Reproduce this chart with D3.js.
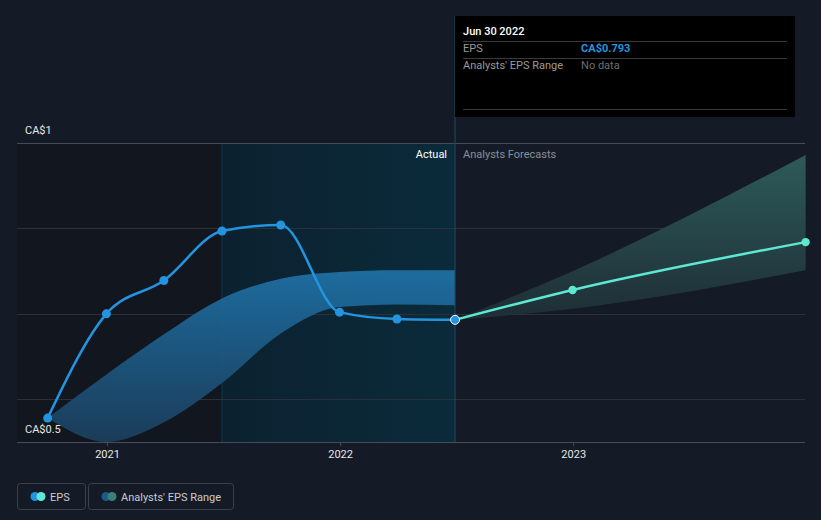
<!DOCTYPE html>
<html><head><meta charset="utf-8">
<script src="https://cdn.jsdelivr.net/npm/d3@7"></script>
<style>
html,body{margin:0;padding:0;background:#151b26;}
svg{display:block;font-family:Roboto, "Noto Sans", sans-serif;}
</style></head>
<body>
<svg id="c" width="821" height="520"></svg>
<script>
// ---------- data ----------
const epsDates   = ["2020-09-30","2020-12-31","2021-03-31","2021-06-30","2021-09-30","2021-12-31","2022-03-31","2022-06-30"];
const epsValues  = [0.678, 0.800, 0.839, 0.897, 0.904, 0.802, 0.794, 0.793];
const rangeLow   = [0.678, 0.650, 0.673, 0.719, 0.777, 0.808, 0.811, 0.810];
const rangeHigh  = [0.678, 0.729, 0.776, 0.818, 0.841, 0.849, 0.851, 0.851];
const fcDates    = ["2022-06-30","2022-12-31","2023-12-31"];
const fcValues   = [0.793, 0.828, 0.884];
const fcLow      = [0.793, 0.806, 0.851];
const fcHigh     = [0.793, 0.850, 0.986];
const gridValues = [0.7, 0.8, 0.9, 1.0];
const yLabels    = [{v:1.0, t:"CA$1"}, {v:0.65, t:"CA$0.5"}];
const xTicks     = ["2021-01-01","2022-01-01","2023-01-01"];
const xTickLabels= ["2021","2022","2023"];
const highlightStart = "2021-06-30";
const todayDate  = "2022-06-30";
const tooltip = {title:"Jun 30 2022", rows:[["EPS","CA$0.793"],["Analysts' EPS Range","No data"]]};
const legendItems = ["EPS","Analysts' EPS Range"];

// ---------- setup ----------
const P = d3.timeParse("%Y-%m-%d");
const svg = d3.select("#c");
const L = 17, R = 805, T = 143, B = 442;
const x = d3.scaleTime().domain([P("2020-08-13"), P("2023-12-30")]).range([L, R]);
const y = d3.scaleLinear().domain([0.65, 1.0]).range([B, T]);

const defs = svg.append("defs");
const g1 = defs.append("linearGradient").attr("id","hl").attr("x1",0).attr("x2",1).attr("y1",0).attr("y2",0);
g1.append("stop").attr("offset","0%").attr("stop-color","#0c2130");
g1.append("stop").attr("offset","100%").attr("stop-color","#0a2b3a");
const g2 = defs.append("linearGradient").attr("id","band").attr("x1",0).attr("x2",0).attr("y1",0).attr("y2",1);
g2.append("stop").attr("offset","0%").attr("stop-color","#1e6fa3");
g2.append("stop").attr("offset","100%").attr("stop-color","#1b3e5c");
const g3 = defs.append("linearGradient").attr("id","fband").attr("gradientUnits","userSpaceOnUse")
  .attr("x1",0).attr("x2",0).attr("y1",150).attr("y2",320);
g3.append("stop").attr("offset","0%").attr("stop-color","#2f5f5c");
g3.append("stop").attr("offset","100%").attr("stop-color","#1e2f36");

const hx = x(P(highlightStart)), tx = x(P(todayDate));
svg.append("rect").attr("x",L).attr("y",T).attr("width",hx-L).attr("height",B-T).attr("fill","#11161f");
svg.append("rect").attr("x",hx).attr("y",T).attr("width",tx-hx).attr("height",B-T).attr("fill","url(#hl)");
svg.append("line").attr("x1",hx).attr("x2",hx).attr("y1",T).attr("y2",B).attr("stroke","#123a4a").attr("stroke-width",1);

// grid
svg.selectAll(".grid").data(gridValues).join("line")
  .attr("x1",L).attr("x2",R).attr("y1",d=>Math.round(y(d))+0.5).attr("y2",d=>Math.round(y(d))+0.5)
  .attr("stroke",d=>d===1.0?"#474d56":"#2a313b").attr("stroke-width",1);

// bands
const epsData = epsDates.map((d,i)=>({d:P(d), v:epsValues[i], lo:rangeLow[i], hi:rangeHigh[i]}));
const fcData = fcDates.map((d,i)=>({d:P(d), v:fcValues[i], lo:fcLow[i], hi:fcHigh[i]}));
const area = d3.area().x(d=>x(d.d)).y0(d=>y(d.lo)).y1(d=>y(d.hi)).curve(d3.curveMonotoneX);
svg.append("path").datum(epsData).attr("d",area).attr("fill","url(#band)").attr("opacity",0.95);
svg.append("path").datum(fcData).attr("d",area).attr("fill","url(#fband)").attr("opacity",0.95);

// axis
svg.append("line").attr("x1",L).attr("x2",R).attr("y1",B+0.5).attr("y2",B+0.5).attr("stroke","#474d56");
const xAxis = svg.append("g").attr("transform",`translate(0,${B})`)
  .call(d3.axisBottom(x).tickValues(xTicks.map(P)).tickFormat((d,i)=>xTickLabels[i]).tickSize(4).tickPadding(4));
xAxis.select(".domain").remove();
xAxis.selectAll(".tick line").attr("stroke","#474d56");
xAxis.selectAll("text").attr("fill","#e6e6e6").attr("font-size",11).attr("font-family","Roboto, sans-serif");

// today line
svg.append("line").attr("x1",tx).attr("x2",tx).attr("y1",16).attr("y2",B).attr("stroke","#24475a").attr("stroke-width",1);

// lines
const line = d3.line().x(d=>x(d.d)).y(d=>y(d.v)).curve(d3.curveMonotoneX);
svg.append("path").datum(fcData).attr("d",line).attr("fill","none").attr("stroke","#5ee8d4").attr("stroke-width",2.5);
svg.append("path").datum(epsData).attr("d",line).attr("fill","none").attr("stroke","#2394df").attr("stroke-width",2.5);
svg.selectAll(".fdot").data(fcData.slice(1)).join("circle")
  .attr("cx",d=>x(d.d)).attr("cy",d=>y(d.v)).attr("r",4.2).attr("fill","#5ee8d4");
svg.selectAll(".edot").data(epsData).join("circle")
  .attr("cx",d=>x(d.d)).attr("cy",d=>y(d.v)).attr("r",4.5)
  .attr("fill","#2394df").attr("stroke",(d,i)=>i===epsData.length-1?"#ffffff":"none").attr("stroke-width",1);

// labels
svg.selectAll(".ylab").data(yLabels).join("text").attr("x",25).attr("y",d=>y(d.v)-9)
  .attr("fill","#e6e6e6").attr("font-size",11).text(d=>d.t);
svg.append("text").attr("x",tx-8).attr("y",158).attr("text-anchor","end").attr("fill","#ffffff").attr("font-size",11).text("Actual");
svg.append("text").attr("x",tx+8).attr("y",158).attr("fill","#8a8f96").attr("font-size",11).text("Analysts Forecasts");

// tooltip
const tt = svg.append("g");
tt.append("rect").attr("x",tx).attr("y",16).attr("width",340).attr("height",101).attr("fill","#000");
tt.append("text").attr("x",tx+8).attr("y",35).attr("fill","#fff").attr("font-size",11).attr("font-weight",500).text(tooltip.title);
[41,58,109].forEach(yy=>tt.append("line").attr("x1",tx+8).attr("x2",tx+332).attr("y1",yy+0.5).attr("y2",yy+0.5).attr("stroke","#3a3a3a"));
tooltip.rows.forEach((r,i)=>{
  tt.append("text").attr("x",tx+8).attr("y",52+i*17).attr("fill","#9a9a9a").attr("font-size",11).text(r[0]);
  tt.append("text").attr("x",tx+126).attr("y",52+i*17).attr("fill",i===0?"#2394df":"#6e6e6e")
    .attr("font-size",11).attr("font-weight",i===0?700:400).text(r[1]);
});

// legend
const lg = svg.append("g");
const boxes = [{x:17,w:68,c1:"#2394df",c2:"#5ee8d4"},{x:88,w:145,c1:"#1b5c85",c2:"#3a7f7a"}];
boxes.forEach((b,i)=>{
  lg.append("rect").attr("x",b.x+0.5).attr("y",483.5).attr("width",b.w).attr("height",26).attr("rx",3)
    .attr("fill","none").attr("stroke","#3c424b");
  lg.append("circle").attr("cx",b.x+18).attr("cy",496.5).attr("r",4.5).attr("fill",b.c1);
  lg.append("circle").attr("cx",b.x+24).attr("cy",496.5).attr("r",4.5).attr("fill",b.c2);
  lg.append("text").attr("x",b.x+33).attr("y",500.5).attr("fill","#c8cbd0").attr("font-size",11).text(legendItems[i]);
});
</script>
</body></html>
